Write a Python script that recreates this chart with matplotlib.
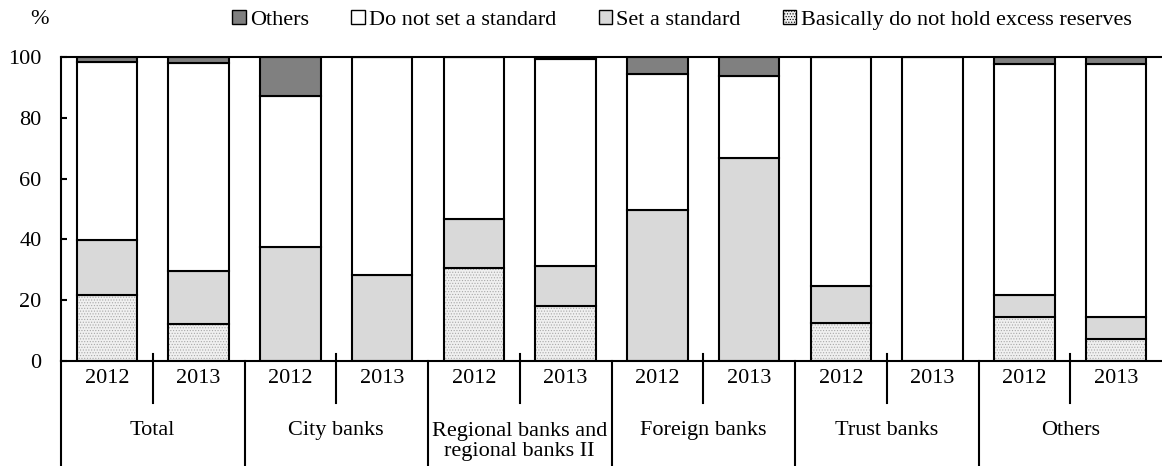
import matplotlib
matplotlib.use("Agg")
import matplotlib.pyplot as plt
from matplotlib.patches import Patch
import numpy as np

plt.rcParams['font.family'] = ['Liberation Serif', 'DejaVu Serif']

groups = ["Total", "City banks", "Regional banks and\nregional banks II", "Foreign banks", "Trust banks", "Others"]
years = ["2012", "2013"]

basically = [21.7, 12.2, 0.0, 0.0, 30.7, 18.1, 0.0, 0.0, 12.6, 0.0, 14.5, 7.1]
set_std   = [18.1, 17.5, 37.5, 28.3, 15.9, 13.2, 49.6, 66.7, 12.1, 0.0, 7.2, 7.4]
no_std    = [58.4, 68.4, 49.7, 71.7, 53.4, 67.9, 44.9, 27.2, 75.3, 100.0, 75.9, 83.1]
others    = [1.8, 1.9, 12.8, 0.0, 0.0, 0.8, 5.5, 6.1, 0.0, 0.0, 2.4, 2.4]

series_names = ["Others", "Do not set a standard", "Set a standard", "Basically do not hold excess reserves"]

fig = plt.figure(figsize=(11.62, 4.66), dpi=100)
ax = fig.add_axes([61/1162, (466-361)/466, (1162-61)/1162, (361-57)/466])

n = len(basically)
x = np.arange(n) + 0.5
w = 0.66
ec = 'black'
lw = 1.5
fs = 16

b0 = np.zeros(n)
plt.rcParams['hatch.linewidth'] = 0.5
ax.bar(x, basically, w, bottom=b0, color='#f0f0f0', hatch='......', edgecolor='#a8a8a8', linewidth=0)
ax.bar(x, basically, w, bottom=b0, fill=False, edgecolor=ec, linewidth=lw)
b1 = b0 + np.array(basically)
ax.bar(x, set_std, w, bottom=b1, color='#d9d9d9', edgecolor=ec, linewidth=lw)
b2 = b1 + np.array(set_std)
ax.bar(x, no_std, w, bottom=b2, color='white', edgecolor=ec, linewidth=lw)
b3 = b2 + np.array(no_std)
ax.bar(x, others, w, bottom=b3, color='#808080', edgecolor=ec, linewidth=lw)

ax.set_xlim(0, n)
ax.set_ylim(0, 100)
ax.set_yticks(range(0, 101, 20))
ax.tick_params(axis='y', direction='in', length=4, width=1.5, labelsize=fs, pad=14)
ax.set_xticks([])
ax.spines['right'].set_visible(False)
for s in ['top', 'left', 'bottom']:
    ax.spines[s].set_linewidth(1.5)

tr = ax.get_xaxis_transform()
for i in range(n):
    ax.text(x[i], -0.056, years[i % 2], transform=tr, ha='center', va='center', fontsize=fs)
for g in range(len(groups)):
    mid = 2 * g + 1
    ax.plot([mid, mid], [0.023, -0.138], transform=tr, color='black', lw=1.5, clip_on=False)
    ax.text(mid, -0.228 if "\n" not in groups[g] else -0.265, groups[g], transform=tr,
            ha='center', va='center', fontsize=fs, linespacing=1.12)
    edge = 2 * g
    ax.plot([edge, edge], [0, -0.345], transform=tr, color='black', lw=1.5, clip_on=False)

fig.text(40/1162, 1 - 20/466, "%", ha='center', va='center', fontsize=fs)

handles = [
    Patch(facecolor='#808080', edgecolor='black', linewidth=1),
    Patch(facecolor='white', edgecolor='black', linewidth=1),
    Patch(facecolor='#d9d9d9', edgecolor='black', linewidth=1),
    Patch(facecolor='#f0f0f0', edgecolor='#a8a8a8', hatch='......', linewidth=1),
]
leg = fig.legend(handles, series_names, loc='center', bbox_to_anchor=(682/1162, 1 - 20/466), ncol=4,
                 frameon=False, fontsize=fs, handlelength=0.6, handleheight=0.6, handletextpad=0.2,
                 columnspacing=1.9, borderaxespad=0)
for p in leg.get_patches()[3:]:
    p.set_edgecolor('black')

fig.savefig("out.png", dpi=100)
